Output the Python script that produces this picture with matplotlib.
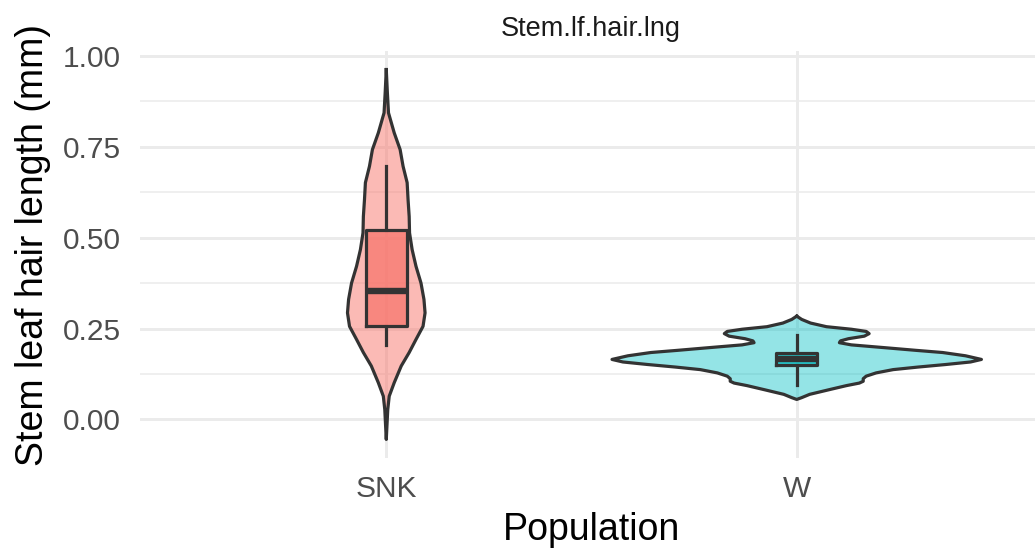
import numpy as np
import matplotlib
matplotlib.use("Agg")
import matplotlib.pyplot as plt

plt.rcParams['font.family'] = ['Liberation Sans', 'DejaVu Sans']

# 群體與顏色
populations = ["SNK", "W"]
fill_colors = ["#F8766D", "#00BFC4"]
fill_alpha = [0.5, 0.42]

# 小提琴圖輪廓 (y 值, 相對密度)
snk_y = [0.962, 0.898, 0.843, 0.788, 0.742, 0.696, 0.651, 0.604, 0.558, 0.513,
         0.467, 0.421, 0.375, 0.330, 0.293, 0.256, 0.220, 0.184, 0.147, 0.101,
         0.064, 0.027, -0.055]
snk_dens = [0.0, 0.006, 0.012, 0.043, 0.075, 0.091, 0.113, 0.118, 0.124, 0.126,
            0.140, 0.161, 0.188, 0.204, 0.210, 0.199, 0.161, 0.124, 0.081, 0.043,
            0.016, 0.008, 0.0]

w_y = [0.284, 0.275, 0.265, 0.255, 0.248, 0.242, 0.236, 0.229, 0.222, 0.216,
       0.211, 0.205, 0.197, 0.190, 0.184, 0.175, 0.165, 0.158, 0.151, 0.144,
       0.137, 0.128, 0.119, 0.112, 0.105, 0.100, 0.093, 0.082, 0.069, 0.060,
       0.055]
w_dens = [0.0, 0.027, 0.075, 0.161, 0.296, 0.376, 0.392, 0.366, 0.280, 0.237,
          0.231, 0.296, 0.484, 0.645, 0.790, 0.914, 1.0, 0.941, 0.806, 0.656,
          0.522, 0.430, 0.376, 0.360, 0.360, 0.339, 0.269, 0.177, 0.070, 0.027,
          0.0]

# 盒鬚圖統計量: 下鬚, Q1, 中位數, Q3, 上鬚
box_stats = {
    "SNK": [0.206, 0.258, 0.352, 0.522, 0.696],
    "W":   [0.096, 0.150, 0.165, 0.184, 0.231],
}

violins = [(snk_y, snk_dens), (w_y, w_dens)]

fig = plt.figure(figsize=(10.35, 5.54), dpi=100)
W, H = 1035, 554
ax = fig.add_axes([140 / W, (H - 458) / H, (1043 - 140) / W, (458 - 51) / H])

ax.set_xlim(0.4, 2.6)
ax.set_ylim(-0.106, 1.013)

# 網格線
for yv in [0.125, 0.375, 0.625, 0.875]:
    ax.axhline(yv, color="#EBEBEB", lw=1.1, zorder=0)
for yv in [0, 0.25, 0.5, 0.75, 1.0]:
    ax.axhline(yv, color="#EBEBEB", lw=2.1, zorder=0)
for xv in [1, 2]:
    ax.axvline(xv, color="#EBEBEB", lw=2.1, zorder=0)

half_max = 0.45
for i, (ys, ds) in enumerate(violins):
    pos = i + 1
    ys = np.array(ys)
    ds = np.array(ds) * half_max
    xs = np.concatenate([pos - ds, (pos + ds)[::-1]])
    yy = np.concatenate([ys, ys[::-1]])
    ax.fill(xs, yy, facecolor=fill_colors[i], alpha=fill_alpha[i], lw=0, zorder=2)
    ax.plot(xs, yy, color="#333333", lw=2.3, solid_joinstyle="round", zorder=3)

    lo, q1, med, q3, hi = box_stats[populations[i]]
    bw = 0.05
    ax.plot([pos, pos], [lo, q1], color="#333333", lw=2.3, zorder=4)
    ax.plot([pos, pos], [q3, hi], color="#333333", lw=2.3, zorder=4)
    ax.fill([pos - bw, pos + bw, pos + bw, pos - bw], [q1, q1, q3, q3],
            facecolor=fill_colors[i], alpha=0.75, lw=0, zorder=4)
    ax.plot([pos - bw, pos + bw, pos + bw, pos - bw, pos - bw],
            [q1, q1, q3, q3, q1], color="#333333", lw=2.3, zorder=5)
    ax.plot([pos - bw, pos + bw], [med, med], color="#333333", lw=4.6,
            solid_capstyle="butt", zorder=5)

ax.set_xticks([1, 2])
ax.set_xticklabels(populations)
ax.set_yticks([0, 0.25, 0.5, 0.75, 1.0])
ax.set_yticklabels(["0.00", "0.25", "0.50", "0.75", "1.00"])
ax.tick_params(axis="both", length=0, labelsize=21.5, labelcolor="#4D4D4D")
ax.tick_params(axis="y", pad=14)
ax.tick_params(axis="x", pad=12)
for s in ax.spines.values():
    s.set_visible(False)

fig.text(33 / W, 1 - 245 / H, "Stem leaf hair length (mm)", rotation=90,
         ha="center", va="center", fontsize=27, color="black")
fig.text(591 / W, 1 - 530 / H, "Population", ha="center", va="center",
         fontsize=27, color="black")
fig.text(591 / W, 1 - 29 / H, "Stem.lf.hair.lng", ha="center", va="center",
         fontsize=19.5, color="#1A1A1A")

fig.savefig("out.png", dpi=100)
